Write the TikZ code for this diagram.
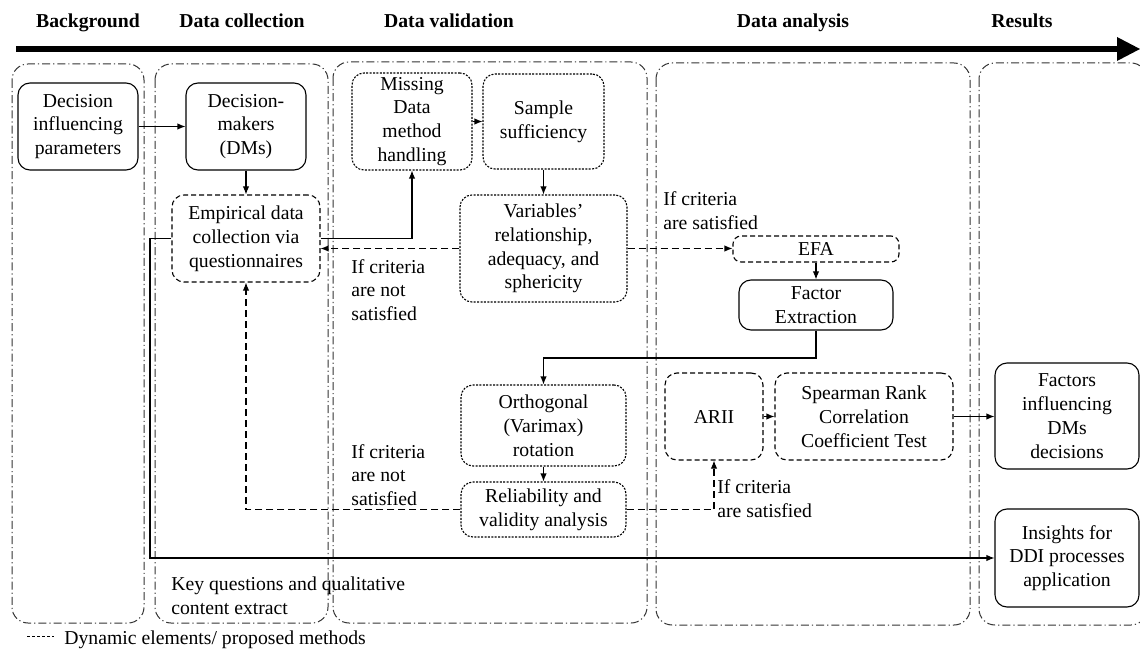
\documentclass[tikz,border=0pt]{standalone}
\usepackage{fontspec}
\setmainfont{Liberation Serif}
\usetikzlibrary{arrows.meta}
\begin{document}
\begin{tikzpicture}[x=0.5pt,y=-0.5pt,
  font=\fontsize{9.85pt}{11.9pt}\selectfont,
  base/.style={align=center, inner sep=0pt, line width=0.55pt, rounded corners=6pt},
  solidbox/.style={base, draw},
  dashbox/.style={base, draw, dash pattern=on 2.5pt off 1.5pt},
  dotbox/.style={base, draw, dash pattern=on 1pt off 0.7pt},
  panel/.style={draw=black!80, line width=0.5pt, rounded corners=8pt, dash pattern=on 4pt off 1.5pt on 0.6pt off 1.5pt},
  conn/.style={line width=0.55pt, -{Latex[length=4pt,width=3.2pt]}},
  dconn/.style={conn, dash pattern=on 3.5pt off 2pt},
  lbl/.style={align=left, inner sep=0pt, anchor=west},
  head/.style={font=\fontsize{9.85pt}{11.9pt}\selectfont\bfseries, inner sep=0pt, anchor=base}
]
\useasboundingbox (0,0) rectangle (1140,652);

% panels
\draw[panel] (12,64) rectangle (144,623);
\draw[panel] (155,64) rectangle (328,623);
\draw[panel] (333,62) rectangle (647,623);
\draw[panel] (656,63) rectangle (970,625);
\begin{scope}
\clip (0,0) rectangle (1140,652);
\draw[panel] (979,63) rectangle (1147,625);
\end{scope}

% headers and timeline
\node[head] (h1) at (88,28) {Background};
\node[head] (h2) at (242,28) {Data collection};
\node[head] (h3) at (449,28) {Data validation};
\node[head] (h4) at (793,28) {Data analysis};
\node[head] (h5) at (1022,28) {Results};
\coordinate (t1) at (16,49);
\coordinate (t2) at (1119,49);
\draw[line width=3pt] (t1) -- (t2);
\fill (1117,37) -- (1140,49) -- (1117,61) -- cycle;

% boxes
\node[solidbox, minimum width=60pt, minimum height=43.5pt] (dip) at (78,126.5) {Decision\\influencing\\parameters};
\node[solidbox, minimum width=60pt, minimum height=43.5pt] (dms) at (246,126.5) {Decision-\\makers\\(DMs)};
\node[dashbox, minimum width=74pt, minimum height=43.5pt] (emp) at (246,238.5) {Empirical data\\collection via\\questionnaires};
\node[dotbox, minimum width=60pt, minimum height=48.5pt] (miss) at (412,121.5) {Missing\\Data\\method\\handling};
\node[dotbox, minimum width=60.5pt, minimum height=47.5pt] (samp) at (543.5,121.5) {Sample\\sufficiency};
\node[dotbox, minimum width=83.5pt, minimum height=53.5pt] (var) at (543.5,248.5) {Variables'\\relationship,\\adequacy, and\\sphericity};
\node[dashbox, minimum width=83pt, minimum height=13pt, rounded corners=4pt] (efa) at (816,249) {EFA};
\node[solidbox, minimum width=77pt, minimum height=25pt] (fe) at (816,305) {Factor\\Extraction};
\node[dotbox, minimum width=82.5pt, minimum height=40.5pt] (orth) at (543.5,425.5) {Orthogonal\\(Varimax)\\rotation};
\node[dotbox, minimum width=82.5pt, minimum height=27.5pt] (rel) at (543.5,509.5) {Reliability and\\validity analysis};
\node[dashbox, minimum width=49pt, minimum height=43.5pt] (arii) at (714,416.5) {ARII};
\node[dashbox, minimum width=89pt, minimum height=43.5pt] (spear) at (864,416.5) {Spearman Rank\\Correlation\\Coefficient Test};
\node[solidbox, minimum width=72pt, minimum height=53pt] (fac) at (1067,416) {Factors\\influencing\\DMs\\decisions};
\node[solidbox, minimum width=72pt, minimum height=49pt] (ins) at (1067,558) {Insights for\\DDI processes\\application};

% labels
\node[lbl] (l1) at (351,290) {If criteria\\are not\\satisfied};
\node[lbl] (l2) at (663,211) {If criteria\\are satisfied};
\node[lbl] (l3) at (351,475) {If criteria\\are not\\satisfied};
\node[lbl] (l4) at (717,499) {If criteria\\are satisfied};
\node[lbl] (l5) at (171,596) {Key questions and qualitative\\content extract};
\coordinate (lg1) at (27,636);
\coordinate (lg2) at (54,636);
\draw[line width=0.4pt, dash pattern=on 1.5pt off 1pt] (lg1) -- (lg2);
\node[lbl] (leg) at (64,640) {Dynamic elements/ proposed methods};

% connectors
\coordinate (c1) at (150,238.5);
\coordinate (c2) at (816,358);
\draw[conn] (dip) -- (dms);
\draw[conn] (dms) -- (emp);
\draw[conn] (emp.east) -- (emp.east -| miss.south) -- (miss.south);
\draw[conn] (emp.west) -- (c1) |- (ins.west);
\draw[conn] (miss) -- (samp);
\draw[conn] (samp) -- (var);
\draw[dconn] (var.west) -- (var.west -| emp.east);
\draw[dconn] (var.east) -- (var.east -| efa.west);
\draw[conn] (efa) -- (fe);
\draw[conn] (fe.south) -- (c2) -| (orth.north);
\draw[conn] (orth) -- (rel);
\draw[dconn] (rel.west) -| (emp.south);
\draw[dconn] (rel.east) -| (arii.south);
\draw[conn] (arii) -- (spear);
\draw[conn] (spear.east) -- (spear.east -| fac.west);
\end{tikzpicture}
\end{document}
